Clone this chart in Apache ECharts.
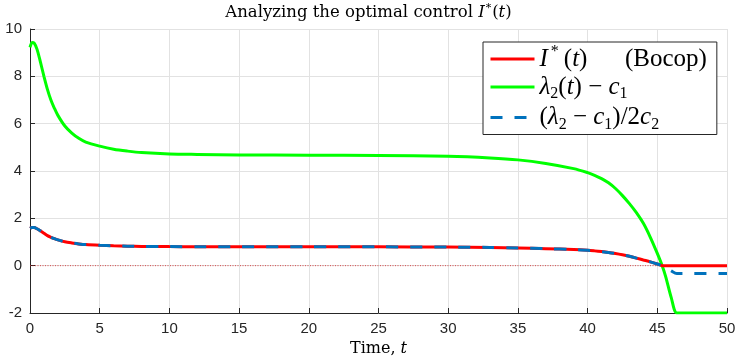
<!DOCTYPE html>
<html><head><meta charset="utf-8">
<script src="https://cdn.jsdelivr.net/npm/echarts@6/dist/echarts.min.js"></script>
<style>html,body{margin:0;padding:0;background:#fff}#c{width:737px;height:357px}</style>
</head><body><div id="c"></div>
<script>
// time grid (t)
const tValues = [0, 0.15, 0.3, 0.5, 0.75, 1, 1.25, 1.5, 1.75, 2, 2.5, 3, 3.5, 4, 5, 6, 7, 8, 10, 12, 15, 20, 25, 30, 33, 35, 37, 39, 40, 40.5, 41, 41.5, 42, 42.5, 43, 43.5, 44, 44.5, 45, 45.35, 45.6, 46, 46.4, 47, 50];
// lambda_2(t) - c1 (green)
const lambdaMinusC1 = [9.22, 9.43, 9.40, 9.15, 8.6, 8.0, 7.45, 7.0, 6.65, 6.35, 5.9, 5.6, 5.38, 5.22, 5.05, 4.92, 4.84, 4.78, 4.72, 4.70, 4.68, 4.67, 4.66, 4.62, 4.55, 4.47, 4.32, 4.10, 3.93, 3.82, 3.68, 3.50, 3.26, 2.96, 2.62, 2.24, 1.79, 1.20, 0.52, 0.0, -0.46, -1.35, -2.0, -2.0, -2.0];
// (lambda_2 - c1)/2c2 (blue dashed)
const ratioValues = [1.58, 1.61, 1.61, 1.56, 1.47, 1.37, 1.27, 1.20, 1.14, 1.09, 1.01, 0.96, 0.92, 0.89, 0.86, 0.84, 0.825, 0.815, 0.805, 0.80, 0.80, 0.80, 0.795, 0.785, 0.77, 0.75, 0.72, 0.68, 0.65, 0.625, 0.595, 0.56, 0.515, 0.46, 0.395, 0.32, 0.24, 0.16, 0.07, 0.0, -0.08, -0.22, -0.33, -0.33, -0.33];
// I*(t) Bocop (red)
const iStarValues = [1.58, 1.61, 1.61, 1.56, 1.47, 1.37, 1.27, 1.20, 1.14, 1.09, 1.01, 0.96, 0.92, 0.89, 0.86, 0.84, 0.825, 0.815, 0.805, 0.80, 0.80, 0.80, 0.795, 0.785, 0.77, 0.75, 0.72, 0.68, 0.65, 0.625, 0.595, 0.56, 0.515, 0.46, 0.395, 0.32, 0.24, 0.16, 0.07, 0.0, 0.0, 0.0, 0.0, 0.0, 0.0];
// zero reference line
const zeroT = [0, 50];
const zeroV = [0, 0];

const pairs = (xs, ys) => xs.map((x, i) => [x, ys[i]]);
const SERIF = 'Liberation Serif';
const TSERIF = 'DejaVu Serif';
const SANS = 'Liberation Sans';

const chart = echarts.init(document.getElementById('c'), null, {renderer: 'canvas'});
const legendText = {
  I: '{i|I}{sup|*}{n|(}{i|t}{n|)      (Bocop)}',
  lam: '{i|λ}{sub|2}{n|(}{i|t}{n|) − }{i|c}{sub|1}',
  ratio: '{n|(}{i|λ}{sub|2}{n| − }{i|c}{sub|1}{n|)/2}{i|c}{sub|2}'
};
chart.setOption({
  animation: false,
  backgroundColor: '#fff',
  title: {
    text: '{n|Analyzing the optimal control }{i|I}{sup|*}{n|(}{i|t}{n|)}',
    left: 'center', top: 3,
    padding: [0, 0, 0, 20],
    textStyle: {
      fontFamily: TSERIF, fontSize: 16.5, fontWeight: 'normal', color: '#000',
      rich: {
        n: {fontFamily: TSERIF, fontSize: 16.5, color: '#000', lineHeight: 20},
        i: {fontFamily: TSERIF, fontStyle: 'italic', fontSize: 16.5, color: '#000', lineHeight: 20},
        sup: {fontFamily: TSERIF, fontSize: 11, color: '#000', verticalAlign: 'top', lineHeight: 12, padding: [0, 1, 0, 1]}
      }
    }
  },
  grid: {left: 30, right: 10, top: 29, bottom: 44, containLabel: false, outerBoundsMode: 'none'},
  legend: {
    data: ['I', 'lam', 'ratio'],
    orient: 'vertical',
    left: 483, top: 42,
    padding: [2, 10, 2, 6],
    itemWidth: 44, itemHeight: 14, itemGap: 3,
    itemStyle: {opacity: 0},
    lineStyle: {width: 3},
    backgroundColor: '#fff',
    borderColor: '#262626', borderWidth: 1,
    formatter: name => legendText[name],
    textStyle: {
      fontFamily: SERIF, fontSize: 25, color: '#000',
      rich: {
        n: {fontFamily: SERIF, fontSize: 25, color: '#000', lineHeight: 30},
        i: {fontFamily: SERIF, fontStyle: 'italic', fontSize: 25, color: '#000', lineHeight: 30},
        sup: {fontFamily: SERIF, fontSize: 16, color: '#000', verticalAlign: 'top', lineHeight: 15, padding: [0, 5, 0, 3]},
        sub: {fontFamily: SERIF, fontSize: 16, color: '#000', verticalAlign: 'bottom', lineHeight: 15}
      }
    }
  },
  xAxis: {
    type: 'value', min: 0, max: 50, interval: 5,
    name: '{n|Time, }{i|t}', nameLocation: 'middle', nameGap: 26,
    nameTextStyle: {
      fontFamily: TSERIF, fontSize: 16, color: '#000',
      rich: {
        n: {fontFamily: TSERIF, fontSize: 16, color: '#000'},
        i: {fontFamily: TSERIF, fontStyle: 'italic', fontSize: 16, color: '#000'}
      }
    },
    axisLine: {show: true, onZero: false, lineStyle: {color: '#262626', width: 1}},
    axisTick: {show: true, inside: true, length: 5, lineStyle: {color: '#262626'}},
    axisLabel: {fontFamily: SANS, fontSize: 15, color: '#262626', margin: 8},
    splitLine: {show: true, lineStyle: {color: '#e2e2e2', width: 1}}
  },
  yAxis: {
    type: 'value', min: -2, max: 10, interval: 2,
    axisLine: {show: true, onZero: false, lineStyle: {color: '#262626', width: 1}},
    axisTick: {show: true, inside: true, length: 5, lineStyle: {color: '#262626'}},
    axisLabel: {fontFamily: SANS, fontSize: 15, color: '#262626', margin: 8},
    splitLine: {show: true, lineStyle: {color: '#e2e2e2', width: 1}}
  },
  series: [
    {
      name: 'zero', type: 'line', data: pairs(zeroT, zeroV), symbol: 'none', silent: true,
      lineStyle: {color: '#d62020', width: 0.8, type: [1, 1.5]}
    },
    {
      name: 'lam', type: 'line', data: pairs(tValues, lambdaMinusC1), symbol: 'none',
      smooth: 0.3,
      itemStyle: {color: '#00ff00'}, lineStyle: {color: '#00ff00', width: 3}
    },
    {
      name: 'I', type: 'line', data: pairs(tValues, iStarValues), symbol: 'none',
      smooth: 0.3,
      itemStyle: {color: '#ff0000'}, lineStyle: {color: '#ff0000', width: 3}
    },
    {
      name: 'ratio', type: 'line', data: pairs(tValues, ratioValues), symbol: 'none',
      smooth: 0.3,
      itemStyle: {color: '#0072bd'}, lineStyle: {color: '#0072bd', width: 3, type: [12, 12]}
    }
  ]
});
</script>
</body></html>
